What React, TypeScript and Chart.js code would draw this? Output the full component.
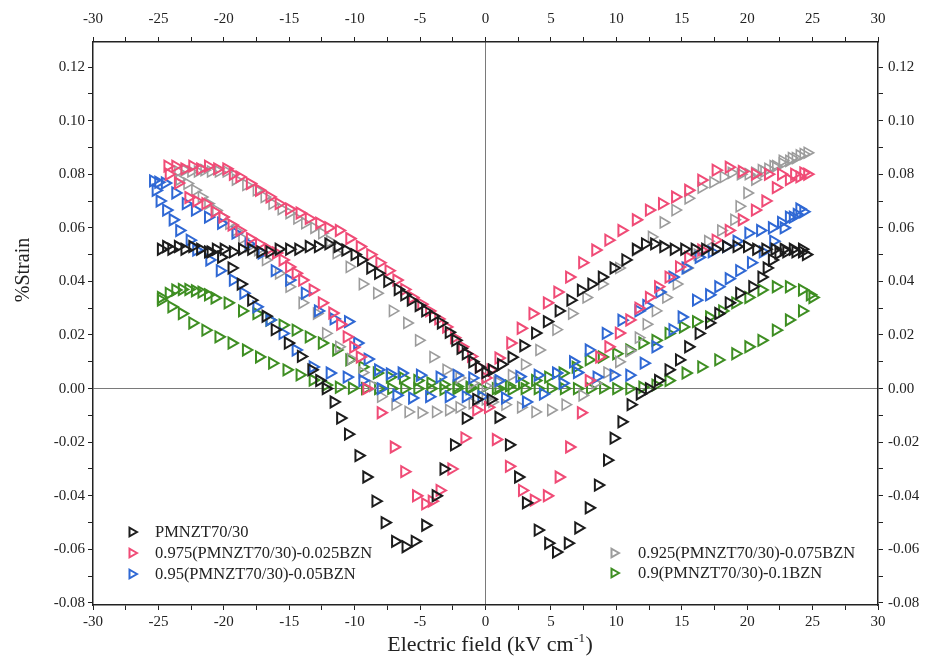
import React, { useEffect, useRef } from 'react';
import { Chart, registerables } from 'chart.js';

Chart.register(...registerables);

// ---- axis ticks ----
const X_TICKS = [-30, -27.5, -25, -22.5, -20, -17.5, -15, -12.5, -10, -7.5, -5, -2.5, 0, 2.5, 5, 7.5, 10, 12.5, 15, 17.5, 20, 22.5, 25, 27.5, 30];
const Y_TICKS = [-0.08, -0.07, -0.06, -0.05, -0.04, -0.03, -0.02, -0.01, 0, 0.01, 0.02, 0.03, 0.04, 0.05, 0.06, 0.07, 0.08, 0.09, 0.1, 0.11, 0.12];

const X_TITLE = 'Electric field (kV cm';
const X_TITLE_SUP = '-1';
const Y_TITLE = '%Strain';

// ---- series names ----
const NAMES = [
  'PMNZT70/30',
  '0.975(PMNZT70/30)-0.025BZN',
  '0.95(PMNZT70/30)-0.05BZN',
  '0.925(PMNZT70/30)-0.075BZN',
  '0.9(PMNZT70/30)-0.1BZN',
];
const COLORS = ['#1c1c1c', '#f04b76', '#2f68d4', '#9c9c9c', '#3e8e22'];

// ---- data: [E (kV/cm), strain (%)] ----
const PMNZT: [number, number][] = [
  // upper-left plateau and descent
  [-24.8, 0.052], [-24.4, 0.053], [-24, 0.052], [-23.5, 0.053], [-23, 0.052], [-22.4, 0.053], [-21.8, 0.052], [-21.2, 0.051],
  [-20.6, 0.052], [-20, 0.052], [-19.3, 0.051], [-18.6, 0.052], [-17.9, 0.052], [-17.2, 0.051], [-16.5, 0.051], [-15.8, 0.052],
  [-15, 0.052], [-14.3, 0.052], [-13.5, 0.053], [-12.8, 0.053], [-12, 0.054], [-11.3, 0.053], [-10.7, 0.0517], [-10, 0.05],
  [-9.5, 0.048], [-8.8, 0.045], [-8.2, 0.043], [-7.5, 0.04], [-6.7, 0.037], [-6.2, 0.035], [-5.7, 0.033], [-5.1, 0.031],
  [-4.6, 0.029], [-4, 0.027], [-3.4, 0.0245], [-2.8, 0.021], [-2.3, 0.018], [-1.9, 0.015], [-1.5, 0.013], [-1, 0.01],
  [-0.5, 0.008], [0, 0.006],
  // lower-left branch and left dip
  [-21, 0.051], [-20.2, 0.049], [-19.4, 0.045], [-18.7, 0.039], [-17.9, 0.033], [-16.8, 0.027], [-16.1, 0.022], [-15.1, 0.017],
  [-14.1, 0.012], [-13.3, 0.007], [-12.7, 0.003], [-12.2, 0.0], [-11.6, -0.005], [-11.1, -0.011], [-10.5, -0.017], [-9.7, -0.025],
  [-9.1, -0.033], [-8.4, -0.042], [-7.7, -0.05], [-6.9, -0.057], [-6.1, -0.059], [-5.4, -0.057], [-4.6, -0.051], [-3.8, -0.04],
  [-3.2, -0.03], [-2.4, -0.021], [-1.5, -0.011], [-0.7, -0.004],
  // right dip and lower-right branch
  [0.4, -0.004], [1, -0.0107], [1.8, -0.021], [2.5, -0.033], [3.1, -0.0426], [4, -0.0528], [4.8, -0.0577], [5.4, -0.061],
  [6.3, -0.0577], [7.1, -0.052], [7.9, -0.0445], [8.6, -0.036], [9.3, -0.0267], [9.8, -0.0185], [10.4, -0.0124], [11.1, -0.006],
  [11.8, -0.002], [12.5, 0.0], [13.2, 0.003], [14, 0.007], [14.8, 0.0107], [15.5, 0.0156], [16.3, 0.0206], [17.1, 0.0245],
  [17.8, 0.028], [18.6, 0.032], [19.4, 0.0356], [20.4, 0.038], [21.1, 0.0416], [21.5, 0.045], [21.9, 0.048], [22.4, 0.0505],
  [23, 0.051], [23.7, 0.051], [24.2, 0.051], [24.5, 0.05],
  // upper-right plateau and descent
  [24.2, 0.052], [23.5, 0.052], [22.8, 0.052], [22.1, 0.052], [21.4, 0.052], [20.7, 0.052], [20, 0.053], [19.2, 0.053],
  [18.4, 0.053], [17.6, 0.052], [16.8, 0.052], [16, 0.052], [15.2, 0.052], [14.4, 0.052], [13.6, 0.053], [12.9, 0.054],
  [12.2, 0.054], [11.5, 0.052], [10.7, 0.048], [9.8, 0.045], [8.9, 0.0416], [8.1, 0.039], [7.3, 0.0367], [6.5, 0.033],
  [5.6, 0.029], [4.7, 0.025], [3.8, 0.0207], [2.9, 0.016], [2, 0.0117], [1.2, 0.009], [0.5, 0.007],
];

const BZN025: [number, number][] = [
  // upper-left
  [-24.3, 0.083], [-23.7, 0.083], [-23, 0.082], [-22.4, 0.083], [-21.8, 0.082], [-21.2, 0.083], [-20.5, 0.082], [-19.8, 0.082],
  [-19.3, 0.08], [-18.8, 0.079], [-18, 0.0765], [-17.3, 0.074], [-16.5, 0.0715], [-15.8, 0.069], [-15, 0.067], [-14.2, 0.0655],
  [-13.5, 0.0635], [-12.7, 0.0617], [-12, 0.06], [-11.2, 0.059], [-10.4, 0.056], [-9.6, 0.053], [-8.8, 0.05], [-8.1, 0.047],
  [-7.4, 0.044], [-6.8, 0.0405], [-6.2, 0.037], [-5.6, 0.034], [-4.9, 0.0315], [-4.3, 0.029], [-3.6, 0.026], [-3, 0.023],
  [-2.4, 0.019], [-1.8, 0.0156], [-1.1, 0.012], [-0.5, 0.008], [0, 0.004],
  // lower-left and left dip
  [-24.2, 0.08], [-23.5, 0.0767], [-22.7, 0.0713], [-22.1, 0.07], [-21.4, 0.069], [-20.7, 0.066], [-20.1, 0.064], [-19.4, 0.061],
  [-18.8, 0.059], [-18, 0.056], [-17.3, 0.054], [-16.6, 0.052], [-16, 0.0506], [-15.5, 0.048], [-15, 0.0454], [-14.5, 0.043],
  [-14, 0.0405], [-13.2, 0.0368], [-12.5, 0.032], [-11.7, 0.0282], [-11.1, 0.024], [-10.6, 0.0193], [-10.1, 0.0155], [-9.6, 0.0118],
  [-9.1, 0.0], [-8, -0.009], [-7, -0.0218], [-6.2, -0.031], [-5.3, -0.04], [-4.6, -0.043], [-4.1, -0.042], [-3.5, -0.038],
  [-2.6, -0.03], [-1.6, -0.0184], [-0.7, -0.008], [0.2, -0.007],
  // right dip and lower-right
  [0.8, -0.019], [1.8, -0.029], [2.8, -0.038], [3.7, -0.0416], [4.7, -0.04], [5.6, -0.033], [6.4, -0.0218], [7.3, -0.009],
  [7.9, 0.003], [8.7, 0.0118], [9.4, 0.0156], [10.2, 0.0207], [11, 0.0256], [11.7, 0.03], [12.5, 0.034], [13.2, 0.038],
  [14, 0.0416], [14.8, 0.0454], [15.5, 0.049], [16.5, 0.0517], [17.6, 0.0554], [18.6, 0.059], [19.6, 0.063], [20.6, 0.0666],
  [21.4, 0.07], [22.2, 0.075], [23.2, 0.078], [24, 0.079], [24.6, 0.08],
  // upper-right
  [24.3, 0.0805], [23.6, 0.08], [22.6, 0.08], [21.6, 0.08], [20.6, 0.08], [19.6, 0.081], [18.6, 0.0826], [17.6, 0.0815],
  [16.5, 0.0778], [15.5, 0.074], [14.5, 0.0715], [13.5, 0.069], [12.5, 0.0666], [11.5, 0.063], [10.4, 0.059], [9.4, 0.0554],
  [8.4, 0.0517], [7.4, 0.047], [6.4, 0.0416], [5.5, 0.036], [4.7, 0.032], [3.6, 0.028], [2.7, 0.0225], [1.9, 0.017],
  [1, 0.0114], [0.4, 0.007],
];

const BZN05: [number, number][] = [
  // upper-left
  [-25.4, 0.0775], [-25, 0.077], [-24.5, 0.0767], [-23.7, 0.073], [-22.9, 0.069], [-22.2, 0.0666], [-21.2, 0.064], [-20.2, 0.0617],
  [-19.1, 0.058], [-18.1, 0.054], [-17.1, 0.0506], [-16.1, 0.044], [-15, 0.0405], [-13.8, 0.0356], [-12.8, 0.029], [-11.6, 0.026],
  [-10.5, 0.025], [-9.8, 0.017], [-9, 0.011], [-8.2, 0.007], [-7.3, 0.0055], [-6.4, 0.0058], [-5, 0.005], [-3.5, 0.0043],
  [-2.2, 0.005], [-1, 0.004],
  // lower-left
  [-25.2, 0.074], [-24.9, 0.07], [-24.4, 0.0666], [-23.9, 0.063], [-23.4, 0.059], [-22.6, 0.0554], [-22.1, 0.0517], [-21.1, 0.048],
  [-20.3, 0.044], [-19.3, 0.0405], [-18.5, 0.0356], [-17.5, 0.0305], [-16.5, 0.0256], [-15.5, 0.0206], [-14.5, 0.0144], [-13.2, 0.0081],
  [-11.9, 0.0058], [-10.6, 0.0043], [-9.4, 0.003], [-8, 0.0], [-6.8, -0.0025], [-5.6, -0.0035], [-4.3, -0.003], [-2.8, -0.003],
  [-1.5, -0.003], [-0.3, -0.003],
  // right: lower row then upper branch
  [1.5, -0.0035], [3.1, -0.005], [4.4, -0.002], [5.9, 0.002], [6.7, 0.01], [7.9, 0.0144], [9.2, 0.0206], [10.4, 0.0255],
  [11.7, 0.029], [12.3, 0.031], [13.3, 0.036], [14.3, 0.0416], [15.3, 0.045], [16.3, 0.049], [17.3, 0.051], [18.4, 0.053],
  [19.2, 0.055], [20.1, 0.058], [21, 0.059], [21.9, 0.06], [22.6, 0.062], [23.2, 0.064], [23.8, 0.065], [24.3, 0.066],
  // right: upper row near zero then lower branch
  [1, 0.003], [2.6, 0.0045], [4, 0.005], [5.4, 0.0058], [7, 0.006], [8.5, 0.0043], [9.8, 0.005], [11, 0.005],
  [12.1, 0.0095], [13, 0.0156], [14.3, 0.022], [15, 0.0267], [16.1, 0.033], [17.1, 0.035], [17.8, 0.038], [18.6, 0.041],
  [19.4, 0.044], [20.3, 0.047], [21.2, 0.051], [22, 0.055], [22.8, 0.06], [23.5, 0.064], [24, 0.067],
];

const BZN075: [number, number][] = [
  // upper-left
  [-23.5, 0.081], [-23, 0.0815], [-22.5, 0.081], [-22, 0.081], [-21.5, 0.0815], [-21, 0.081], [-20.4, 0.081], [-19.8, 0.081],
  [-19.1, 0.078], [-18.3, 0.076], [-17.5, 0.074], [-16.9, 0.0715], [-16.3, 0.069], [-15.6, 0.067], [-15, 0.0655], [-14.4, 0.0635],
  [-13.8, 0.0617], [-13.1, 0.06], [-12.5, 0.058], [-11.9, 0.055], [-11.4, 0.0505], [-10.4, 0.0454], [-9.4, 0.039], [-8.3, 0.0356],
  [-7.1, 0.029], [-6, 0.0245], [-5.1, 0.018], [-4, 0.0118], [-3, 0.007], [-2, 0.004], [-1, 0.002], [0, 0.001],
  // lower-left
  [-23.4, 0.078], [-22.8, 0.0765], [-22.2, 0.074], [-21.7, 0.0715], [-21.2, 0.069], [-20.6, 0.0665], [-20.1, 0.064], [-19.6, 0.0615],
  [-19.1, 0.059], [-18.6, 0.056], [-18.1, 0.053], [-17.4, 0.0517], [-16.8, 0.048], [-15.8, 0.043], [-15, 0.038], [-14, 0.032],
  [-12.9, 0.028], [-12.2, 0.0206], [-11.2, 0.0156], [-10.3, 0.011], [-9.4, 0.006], [-8.6, 0.001], [-8, -0.003], [-6.9, -0.006],
  [-5.9, -0.0087], [-4.9, -0.009], [-3.8, -0.0087], [-2.8, -0.008], [-2, -0.007], [-1, -0.0055], [0, -0.004],
  // right: lower branch
  [0.5, -0.005], [1.5, -0.006], [2.7, -0.007], [3.8, -0.0087], [5, -0.008], [6.1, -0.006], [7.4, -0.0025], [8.4, 0.002],
  [9.3, 0.006], [10.2, 0.01], [11, 0.014], [11.7, 0.019], [12.3, 0.024], [13, 0.029], [13.8, 0.034], [14.6, 0.039],
  [15.4, 0.045], [16.2, 0.05], [17, 0.055], [18, 0.059], [19, 0.063], [19.4, 0.068], [20, 0.073], [20.6, 0.078],
  [21.3, 0.081], [22, 0.083], [22.7, 0.085], [23.4, 0.086], [24, 0.087], [24.6, 0.088],
  // right: upper branch
  [24.3, 0.0875], [23.7, 0.086], [23.2, 0.085], [22.7, 0.084], [22.2, 0.083], [21.6, 0.082], [21.1, 0.0815], [20.6, 0.0805],
  [20.1, 0.08], [19.5, 0.08], [18.8, 0.0805], [18.2, 0.079], [17.4, 0.077], [16.5, 0.075], [15.5, 0.071], [14.5, 0.0666],
  [13.6, 0.062], [12.7, 0.0566], [11.5, 0.0517], [10.2, 0.045], [8.9, 0.039], [7.7, 0.034], [6.6, 0.028], [5.4, 0.022],
  [4.1, 0.0144], [3, 0.009], [2, 0.005], [0.9, 0.0025],
];

const BZN1: [number, number][] = [
  // upper-left
  [-24.8, 0.034], [-24.2, 0.0355], [-23.7, 0.0368], [-23.2, 0.037], [-22.7, 0.037], [-22.2, 0.0365], [-21.7, 0.036], [-21.2, 0.035],
  [-20.7, 0.0338], [-19.7, 0.032], [-18.6, 0.029], [-17.5, 0.028], [-16.5, 0.0256], [-15.5, 0.0237], [-14.5, 0.0218], [-13.5, 0.0193],
  [-12.5, 0.017], [-11.4, 0.0144], [-10.4, 0.0107], [-9.4, 0.0081], [-8.3, 0.0058], [-7.3, 0.0043], [-6.3, 0.004], [-5.2, 0.003],
  [-4.2, 0.0021], [-3.2, 0.0015], [-2.2, 0.0008], [-1.2, 0.0005], [-0.3, 0.0],
  // lower-left
  [-24.8, 0.033], [-24, 0.0305], [-23.2, 0.028], [-22.4, 0.0245], [-21.4, 0.0218], [-20.4, 0.0193], [-19.4, 0.017], [-18.3, 0.0144],
  [-17.3, 0.0118], [-16.3, 0.0095], [-15.2, 0.007], [-14.2, 0.0051], [-13.2, 0.0032], [-12.2, 0.0013], [-11.2, 0.0005], [-10.2, 0.0002],
  [-9.2, 0.0], [-8.2, 0.0], [-7.2, 0.0], [-6.2, 0.0], [-5.2, 0.0], [-4.2, 0.0], [-3.2, -0.0003], [-2.2, 0.0], [-1.2, 0.0],
  // right upper
  [0.8, 0.0], [1.8, 0.001], [2.8, 0.002], [3.8, 0.003], [4.8, 0.0043], [5.9, 0.0058], [6.9, 0.008], [7.9, 0.0107],
  [8.9, 0.0118], [10, 0.013], [11, 0.0144], [12, 0.017], [13, 0.018], [14, 0.0206], [15.1, 0.023], [16.1, 0.025],
  [17.1, 0.0267], [18.1, 0.029], [19.1, 0.032], [20.1, 0.034], [21.1, 0.0368], [22.2, 0.038], [23.2, 0.038], [24.2, 0.0368],
  [24.8, 0.035],
  // right lower
  [1, 0.0], [2, -0.0003], [3, 0.0], [4, 0.0], [5, 0.0], [6, 0.0], [7, 0.0], [8, 0.0], [9, 0.0003], [10, 0.0], [11, 0.0],
  [12, 0.0005], [13, 0.0013], [14, 0.003], [15.3, 0.0058], [16.5, 0.0081], [17.8, 0.0107], [19.1, 0.013], [20.1, 0.0156],
  [21.1, 0.018], [22.2, 0.0218], [23.2, 0.0256], [24.2, 0.029], [25, 0.034],
];

const SERIES = [PMNZT, BZN025, BZN05, BZN075, BZN1];

const SERIF = "'Liberation Serif', 'Times New Roman', serif";
const TEXT = '#222';

function drawTri(ctx: CanvasRenderingContext2D, x: number, y: number, r: number, color: string, lw: number) {
  ctx.beginPath();
  ctx.moveTo(x + r, y);
  ctx.lineTo(x - r / 2, y - (r * Math.sqrt(3)) / 2);
  ctx.lineTo(x - r / 2, y + (r * Math.sqrt(3)) / 2);
  ctx.closePath();
  ctx.strokeStyle = color;
  ctx.lineWidth = lw;
  ctx.stroke();
}

const overlayPlugin = {
  id: 'overlay',
  afterDraw(chart: any) {
    const ctx: CanvasRenderingContext2D = chart.ctx;
    ctx.save();
    ctx.fillStyle = TEXT;
    // x title with superscript
    ctx.font = `22px ${SERIF}`;
    const mainW = ctx.measureText(X_TITLE).width;
    ctx.font = `13px ${SERIF}`;
    const supW = ctx.measureText(X_TITLE_SUP).width;
    ctx.font = `22px ${SERIF}`;
    const closeW = ctx.measureText(')').width;
    const total = mainW + supW + closeW + 1;
    const x0 = 490 - total / 2;
    const base = 651;
    ctx.textBaseline = 'alphabetic';
    ctx.textAlign = 'left';
    ctx.fillText(X_TITLE, x0, base);
    ctx.font = `13px ${SERIF}`;
    ctx.fillText(X_TITLE_SUP, x0 + mainW + 0.5, base - 9);
    ctx.font = `22px ${SERIF}`;
    ctx.fillText(')', x0 + mainW + supW + 1, base);

    // y title
    ctx.save();
    ctx.translate(24, 270);
    ctx.rotate(-Math.PI / 2);
    ctx.font = `20px ${SERIF}`;
    ctx.textAlign = 'center';
    ctx.textBaseline = 'middle';
    ctx.fillText(Y_TITLE, 0, 0);
    ctx.restore();

    // legends
    ctx.font = `16.5px ${SERIF}`;
    ctx.textAlign = 'left';
    ctx.textBaseline = 'middle';
    const left = [0, 1, 2];
    const leftY = [532, 553, 574];
    left.forEach((idx, i) => {
      drawTri(ctx, 132, leftY[i], 5, COLORS[idx], 2);
      ctx.fillStyle = TEXT;
      ctx.fillText(NAMES[idx], 155, leftY[i] + 1);
    });
    const right = [3, 4];
    const rightY = [553, 573];
    right.forEach((idx, i) => {
      drawTri(ctx, 614, rightY[i], 5, COLORS[idx], 2);
      ctx.fillStyle = TEXT;
      ctx.fillText(NAMES[idx], 638, rightY[i] + 1);
    });
    ctx.restore();
  },
};

const Y_MIN = -0.08075;
const Y_MAX = 0.12933;

export default function App() {
  const ref = useRef<HTMLCanvasElement | null>(null);

  useEffect(() => {
    document.body.style.margin = '0';
    const canvas = ref.current;
    if (!canvas) return;

    const tickFont = { family: SERIF, size: 15 };
    const xCb = (v: any) => (Number(v) % 5 === 0 ? String(v) : '');
    const yCb = (v: any) => {
      const n = Math.round(Number(v) * 100);
      return Math.abs(n) % 2 === 0 ? (n / 100).toFixed(2) : '';
    };
    const xTicks = (s: any) => {
      s.ticks = X_TICKS.map((v) => ({ value: v }));
    };
    const yTicks = (s: any) => {
      s.ticks = Y_TICKS.map((v) => ({ value: v }));
    };
    const zeroLine = (c: any) => (c.tick && Math.abs(c.tick.value) < 1e-9 ? '#7a7a7a' : 'rgba(0,0,0,0)');

    const chart = new Chart(canvas, {
      type: 'scatter',
      data: {
        datasets: SERIES.map((pts, i) => ({
          label: NAMES[i],
          data: pts.map(([x, y]) => ({ x, y })),
          borderColor: COLORS[i],
          backgroundColor: 'rgba(0,0,0,0)',
          pointStyle: 'triangle',
          rotation: 90,
          pointRadius: 6.3,
          pointBorderWidth: i === 3 ? 1.6 : 2,
          showLine: false,
          xAxisID: 'x',
          yAxisID: 'y',
        })),
      },
      options: {
        animation: false,
        responsive: false,
        maintainAspectRatio: false,
        layout: { padding: 0 },
        plugins: {
          legend: { display: false },
          tooltip: { enabled: false },
          title: { display: false },
        },
        scales: {
          x: {
            type: 'linear',
            position: 'bottom',
            min: -30,
            max: 30,
            bounds: 'data',
            afterBuildTicks: xTicks,
            afterFit: (s: any) => {
              s.height = 54;
            },
            ticks: { autoSkip: false, maxRotation: 0, padding: 3, callback: xCb, font: tickFont, color: TEXT },
            grid: { color: zeroLine, tickColor: TEXT, tickLength: 5, lineWidth: 1, drawOnChartArea: true },
            border: { display: true, color: TEXT, width: 1.5 },
          },
          xTop: {
            type: 'linear',
            position: 'top',
            min: -30,
            max: 30,
            bounds: 'data',
            afterBuildTicks: xTicks,
            afterFit: (s: any) => {
              s.height = 42;
            },
            ticks: { autoSkip: false, maxRotation: 0, padding: 9, callback: xCb, font: tickFont, color: TEXT },
            grid: { drawOnChartArea: false, tickColor: TEXT, tickLength: 5, color: TEXT },
            border: { display: true, color: TEXT, width: 1.5 },
          },
          y: {
            type: 'linear',
            position: 'left',
            min: Y_MIN,
            max: Y_MAX,
            bounds: 'data',
            afterBuildTicks: yTicks,
            afterFit: (s: any) => {
              s.width = 93;
            },
            ticks: { autoSkip: false, padding: 3, callback: yCb, font: tickFont, color: TEXT },
            grid: { color: zeroLine, tickColor: TEXT, tickLength: 5, lineWidth: 1, drawOnChartArea: true },
            border: { display: true, color: TEXT, width: 1.5 },
          },
          yRight: {
            type: 'linear',
            position: 'right',
            min: Y_MIN,
            max: Y_MAX,
            bounds: 'data',
            afterBuildTicks: yTicks,
            afterFit: (s: any) => {
              s.width = 64;
            },
            ticks: { autoSkip: false, padding: 5, callback: yCb, font: tickFont, color: TEXT },
            grid: { drawOnChartArea: false, tickColor: TEXT, tickLength: 5, color: TEXT },
            border: { display: true, color: TEXT, width: 1.5 },
          },
        },
      } as any,
      plugins: [overlayPlugin],
    });

    return () => chart.destroy();
  }, []);

  return (
    <div style={{ width: 942, height: 659, position: 'relative', background: '#fff' }}>
      <canvas ref={ref} width={942} height={659} style={{ display: 'block' }} />
    </div>
  );
}
